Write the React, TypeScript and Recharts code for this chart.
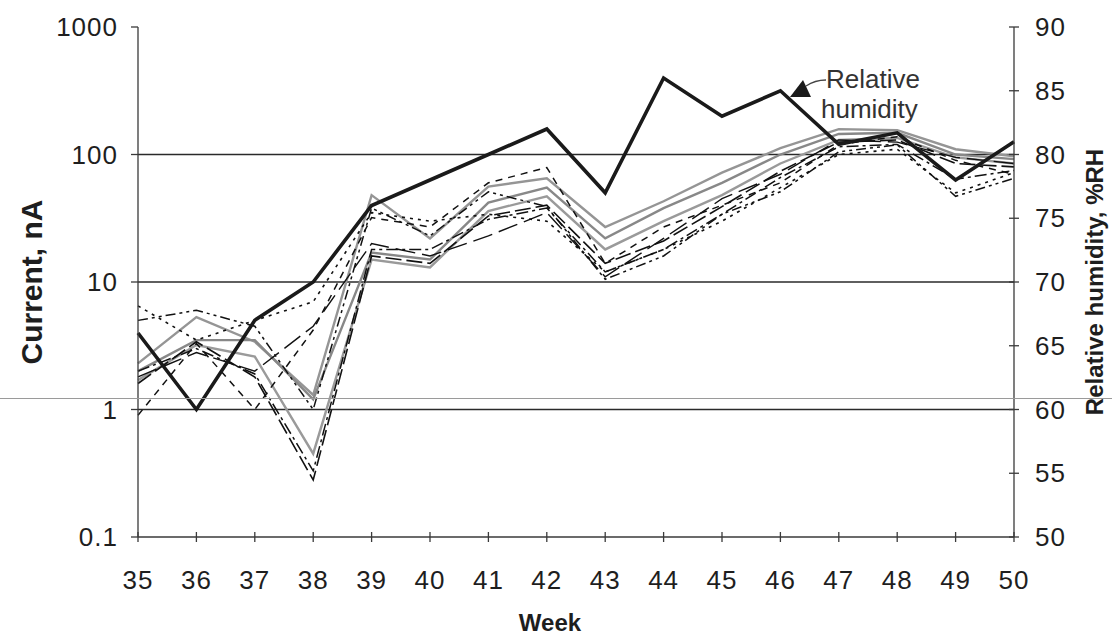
import React from 'react';
import { LineChart, Line, XAxis, YAxis, ReferenceLine } from 'recharts';

const weeks = [35, 36, 37, 38, 39, 40, 41, 42, 43, 44, 45, 46, 47, 48, 49, 50];
const humidity = [66, 60, 67, 70, 76, 78, 80, 82, 77, 86, 83, 85, 80.8, 81.7, 78, 81];

const grayA = [2.3, 5.3, 3.4, 1.3, 48, 22, 56, 65, 27, 43, 72, 112, 158, 155, 110, 97];
const grayB = [2.0, 3.5, 3.5, 1.2, 17, 15, 42, 55, 22, 38, 60, 100, 145, 148, 100, 92];
const grayC = [1.7, 3.2, 2.6, 0.45, 15, 13, 36, 47, 18, 30, 48, 85, 130, 135, 95, 85];
const blackA = [1.6, 3.4, 1.8, 0.28, 16, 14, 33, 40, 14, 21, 39, 74, 125, 130, 85, 80];
const blackB = [2.0, 3.0, 1.9, 0.33, 18, 18, 31, 38, 12, 18, 34, 66, 115, 120, 64, 75];
const blackC = [0.9, 3.3, 1.0, 4.2, 32, 27, 60, 79, 14, 27, 40, 60, 120, 138, 90, 70];
const blackD = [5.0, 6.0, 4.5, 1.0, 38, 23, 51, 39, 10.5, 16, 34, 51, 105, 119, 47, 65];
const blackE = [6.5, 3.5, 5.0, 7, 35, 30, 34, 30, 12, 18, 30, 55, 100, 110, 50, 72];
const blackF = [1.8, 2.8, 2.0, 4.5, 20, 16, 23, 35, 11, 22, 45, 70, 130, 125, 95, 85];

const currentTicks = [0.1, 1, 10, 100, 1000];
const humidityTicks = [50, 55, 60, 65, 70, 75, 80, 85, 90];
const gridValues = [1, 10, 100];

const data = weeks.map((w, i) => ({
  week: w,
  rh: humidity[i],
  grayA: grayA[i],
  grayB: grayB[i],
  grayC: grayC[i],
  blackA: blackA[i],
  blackB: blackB[i],
  blackC: blackC[i],
  blackD: blackD[i],
  blackE: blackE[i],
  blackF: blackF[i],
}));

const FONT = '"Liberation Sans", Arial, Helvetica, sans-serif';
const TXT = '#1e1e1e';
const AX = '#3a3a3a';
const TICK_FS = 26;

const R_TS = 5;
const R_TM = 16;
const B_TS = 5;
const B_TM = 38;

const LeftTick = (props: any) => {
  const { x, y, payload } = props;
  return (
    <text x={x} y={y} textAnchor="end" dominantBaseline="central" fontSize={TICK_FS} letterSpacing={1} fill={TXT} fontFamily={FONT}>
      {String(payload.value)}
    </text>
  );
};

const RightTick = (props: any) => {
  const { x, y, payload } = props;
  const ax = x - R_TS - R_TM;
  return (
    <g>
      <line x1={ax - 5} x2={ax + 5} y1={y} y2={y} stroke={AX} strokeWidth={1.3} />
      <text x={x} y={y} textAnchor="start" dominantBaseline="central" fontSize={TICK_FS} letterSpacing={1} fill={TXT} fontFamily={FONT}>
        {String(payload.value)}
      </text>
    </g>
  );
};

const BottomTick = (props: any) => {
  const { x, y, payload } = props;
  const ay = y - B_TS - B_TM;
  return (
    <g>
      <line x1={x} x2={x} y1={ay - 5} y2={ay + 5} stroke={AX} strokeWidth={1.3} />
      <text x={x} y={y} textAnchor="middle" dominantBaseline="central" fontSize={TICK_FS} letterSpacing={1} fill={TXT} fontFamily={FONT}>
        {String(payload.value)}
      </text>
    </g>
  );
};

const WeekLabel = (props: any) => {
  const vb = props.viewBox || {};
  const cx = vb.x + vb.width / 2 - 26;
  return (
    <text x={cx} y={vb.y + 85} textAnchor="middle" dominantBaseline="central" fontSize={24} fontWeight="bold" fill={TXT} fontFamily={FONT}>
      Week
    </text>
  );
};

const CurrentLabel = (props: any) => {
  const vb = props.viewBox || {};
  const cx = vb.x + 31;
  const cy = vb.y + vb.height / 2;
  return (
    <text x={cx} y={cy} transform={`rotate(-90 ${cx} ${cy})`} textAnchor="middle" dominantBaseline="central" fontSize={30} fontWeight="bold" fill={TXT} fontFamily={FONT}>
      Current, nA
    </text>
  );
};

const RhLabel = (props: any) => {
  const vb = props.viewBox || {};
  const cx = vb.x + 80;
  const cy = vb.y + vb.height / 2;
  return (
    <text x={cx} y={cy} transform={`rotate(-90 ${cx} ${cy})`} textAnchor="middle" dominantBaseline="central" fontSize={24} fontWeight="bold" fill={TXT} fontFamily={FONT}>
      Relative humidity, %RH
    </text>
  );
};

const blackSeries: { key: string; dash: string; w: number }[] = [
  { key: 'blackA', dash: '16 5', w: 1.6 },
  { key: 'blackB', dash: '12 4 3 4', w: 1.5 },
  { key: 'blackC', dash: '7 6', w: 1.5 },
  { key: 'blackD', dash: '10 4 3 4 3 4', w: 1.5 },
  { key: 'blackE', dash: '3 5', w: 1.6 },
  { key: 'blackF', dash: '20 7', w: 1.4 },
];

const graySeries: { key: string; color: string }[] = [
  { key: 'grayA', color: '#959595' },
  { key: 'grayB', color: '#888888' },
  { key: 'grayC', color: '#9a9a9a' },
];

export default function App() {
  return (
    <div style={{ position: 'absolute', left: 0, top: 0, width: 1112, height: 637, background: '#fff', overflow: 'hidden' }}>
      <LineChart width={1112} height={637} data={data} margin={{ top: 27, right: 0, left: 0, bottom: 40 }}>
        <XAxis
          dataKey="week"
          type="number"
          domain={[35, 50]}
          ticks={weeks}
          interval={0}
          height={60}
          stroke={AX}
          strokeWidth={1.3}
          tickLine={false}
          tickSize={B_TS}
          tickMargin={B_TM}
          tick={<BottomTick />}
          label={{ content: <WeekLabel /> }}
        />
        <YAxis
          yAxisId="cur"
          scale="log"
          domain={[0.1, 1000]}
          ticks={currentTicks}
          allowDataOverflow
          width={138}
          stroke={AX}
          strokeWidth={1.3}
          tickSize={7}
          tickMargin={13}
          tick={<LeftTick />}
          label={{ content: <CurrentLabel /> }}
        />
        <YAxis
          yAxisId="rh"
          orientation="right"
          domain={[50, 90]}
          ticks={humidityTicks}
          width={98}
          stroke={AX}
          strokeWidth={1.3}
          tickLine={false}
          tickSize={R_TS}
          tickMargin={R_TM}
          tick={<RightTick />}
          label={{ content: <RhLabel /> }}
        />
        {gridValues.map((g) => (
          <ReferenceLine key={g} yAxisId="cur" y={g} stroke="#2a2a2a" strokeWidth={1.6} />
        ))}
        {graySeries.map((s) => (
          <Line key={s.key} yAxisId="cur" dataKey={s.key} stroke={s.color} strokeWidth={2.4} dot={false} isAnimationActive={false} />
        ))}
        {blackSeries.map((s) => (
          <Line key={s.key} yAxisId="cur" dataKey={s.key} stroke="#111" strokeWidth={s.w} strokeDasharray={s.dash} dot={false} isAnimationActive={false} />
        ))}
        <Line yAxisId="rh" dataKey="rh" stroke="#1a1a1a" strokeWidth={3.6} strokeLinejoin="miter" dot={false} isAnimationActive={false} />
      </LineChart>
      <div style={{ position: 'absolute', left: 0, top: 398, width: 1112, height: 1, background: '#9a9a9a' }} />
      <svg width={1112} height={637} style={{ position: 'absolute', left: 0, top: 0, pointerEvents: 'none' }}>
        <path d="M 826 80 Q 815 80 806 86" fill="none" stroke="#444" strokeWidth={1.3} />
        <polygon points="790,97 803,80 811,97" fill="#1a1a1a" />
        <text x={826} y={88} fontSize={26} fill="#333" fontFamily={FONT}>Relative</text>
        <text x={821} y={118} fontSize={26} fill="#333" fontFamily={FONT}>humidity</text>
      </svg>
    </div>
  );
}
